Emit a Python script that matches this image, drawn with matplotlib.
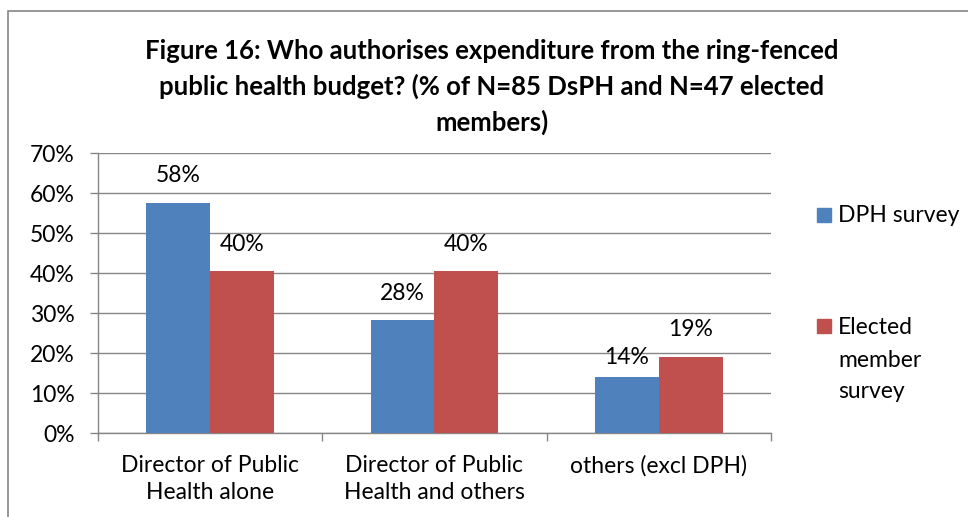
import matplotlib
matplotlib.use("Agg")
import matplotlib.pyplot as plt
from matplotlib.patches import Rectangle

categories = ["Director of Public\nHealth alone", "Director of Public\nHealth and others", "others (excl DPH)"]
dph_survey = [57.6, 28.2, 14.1]
elected_survey = [40.4, 40.4, 19.1]
dph_labels = ["58%", "28%", "14%"]
elected_labels = ["40%", "40%", "19%"]
yticks = [0, 10, 20, 30, 40, 50, 60, 70]

plt.rcParams['font.family'] = ['Lato', 'DejaVu Sans']

BLUE = '#4F81BD'
RED = '#C0504D'
GRID = '#868686'
FS = 16.5

fig = plt.figure(figsize=(9.68, 5.17), dpi=100)
ax = fig.add_axes([98 / 968, 1 - 433 / 517, 673 / 968, 280 / 517])

x = list(range(len(categories)))
w = 0.285
b1 = ax.bar([i - w / 2 for i in x], dph_survey, w, color=BLUE, zorder=3)
b2 = ax.bar([i + w / 2 for i in x], elected_survey, w, color=RED, zorder=3)

# data labels (Excel nudged the 14% one down a bit)
offsets_dph = [12, 12, 6]
for rect, lab, off in zip(b1, dph_labels, offsets_dph):
    ax.annotate(lab, (rect.get_x() + rect.get_width() / 2, rect.get_height()),
                xytext=(0, off), textcoords='offset points', ha='center', va='bottom', fontsize=FS)
for rect, lab in zip(b2, elected_labels):
    ax.annotate(lab, (rect.get_x() + rect.get_width() / 2, rect.get_height()),
                xytext=(0, 12), textcoords='offset points', ha='center', va='bottom', fontsize=FS)

ax.set_xlim(-0.5, len(categories) - 0.5)
ax.set_ylim(0, 70)
ax.set_yticks(yticks)
ax.set_yticklabels([f"{t}%" for t in yticks], fontsize=FS)
ax.set_xticks(x)
ax.set_xticklabels(categories, fontsize=FS, linespacing=1.35)
ax.set_xticks([i - 0.5 for i in range(len(categories) + 1)], minor=True)
ax.tick_params(axis='x', which='major', length=0, pad=16)
ax.tick_params(axis='x', which='minor', length=6, color=GRID, width=1)
ax.tick_params(axis='y', length=6, color=GRID, width=1, pad=11)

ax.grid(axis='y', color=GRID, linewidth=1, zorder=0)
for side in ['top', 'right']:
    ax.spines[side].set_visible(False)
for side in ['left', 'bottom']:
    ax.spines[side].set_color(GRID)
    ax.spines[side].set_linewidth(1)

fig.text(492 / 968, 1 - 87 / 517,
         "Figure 16: Who authorises expenditure from the ring-fenced\n"
         "public health budget? (% of N=85 DsPH and N=47 elected\nmembers)",
         ha='center', va='center', fontsize=18.5, fontweight='bold', linespacing=1.5)

# legend
fig.patches.append(Rectangle((817 / 968, 1 - 222 / 517), 14 / 968, 14 / 517,
                             transform=fig.transFigure, color=BLUE))
fig.text(838 / 968, 1 - 215 / 517, "DPH survey", va='center', fontsize=FS)
fig.text(838 / 968, 1 - 327 / 517, "Elected", va='center', fontsize=FS)
fig.patches.append(Rectangle((817 / 968, 1 - 333 / 517), 14 / 968, 14 / 517,
                             transform=fig.transFigure, color=RED))
fig.text(838 / 968, 1 - 376 / 517, "member\nsurvey", va='center', fontsize=FS, linespacing=1.55)

# chart border
fig.patches.append(Rectangle((8 / 968, -0.1), 2, 1.1 - 11 / 517,
                             transform=fig.transFigure, fill=False, edgecolor=GRID, linewidth=1.2))

fig.savefig("out.png", dpi=100)
